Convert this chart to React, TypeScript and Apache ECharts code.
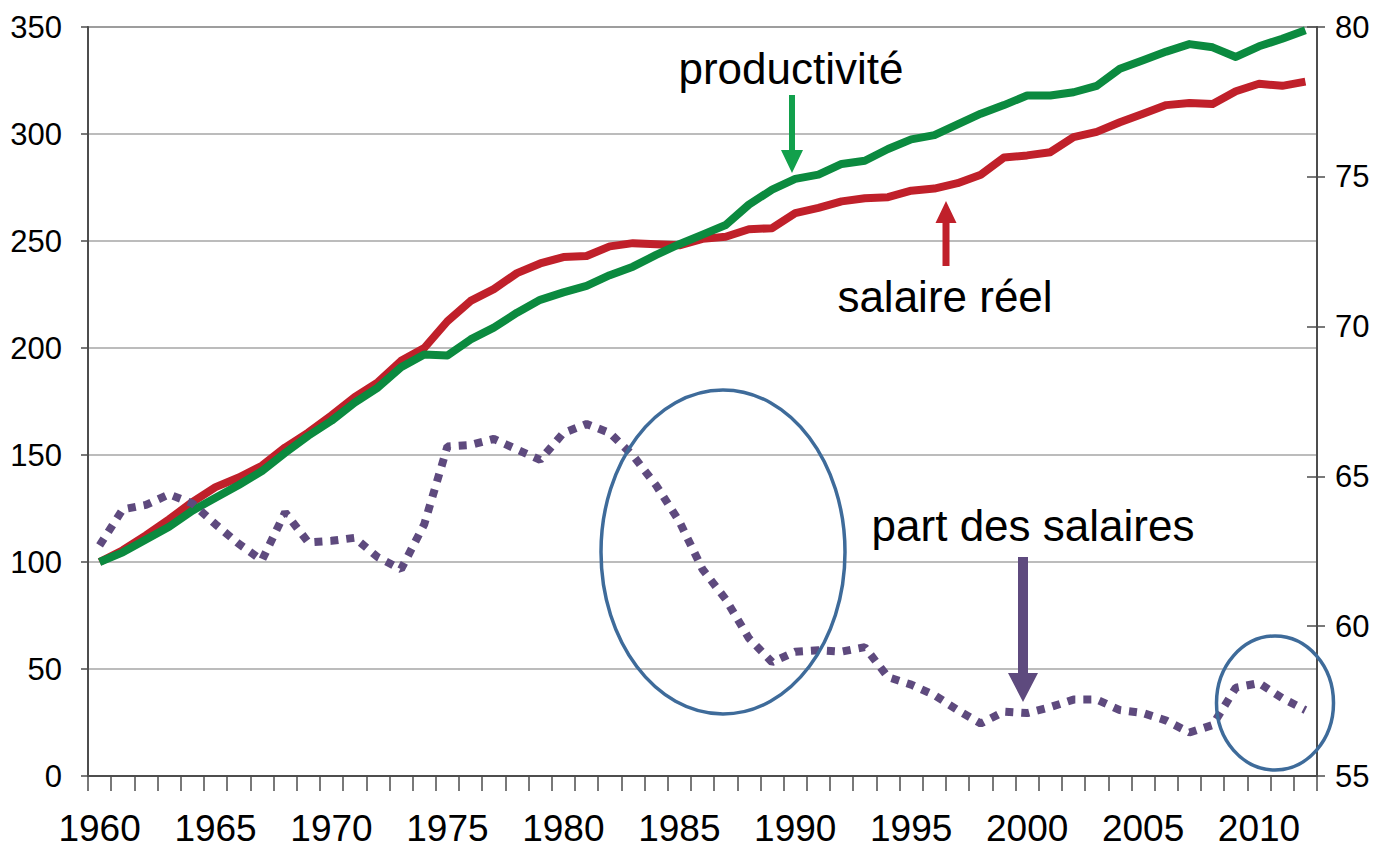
import React, { useEffect, useRef } from "react";
import * as echarts from "echarts";

const years: string[] = [];
for (let y = 1960; y <= 2012; y++) years.push(String(y));

// productivité (left axis, index 1960 = 100)
const productivite = [
  100, 104.5, 110.5, 116.5, 124, 130, 136, 142.5, 151, 159,
  166, 174.5, 181.5, 191, 197, 196.5, 204, 209.5, 216.5, 222.5,
  226, 229, 234, 238, 243.5, 248.5, 253, 257.5, 267, 274,
  279, 281, 286, 287.5, 293, 297.5, 299.5, 304.5, 309.5, 313.5,
  318, 318, 319.5, 322.5, 330.5, 334.5, 338.5, 342, 340.5, 336,
  341, 344.5, 348.5,
];

// salaire réel (left axis, index 1960 = 100)
const salaireReel = [
  100, 105.5, 112.5, 120, 128, 135, 139.5, 145, 153.5, 160.5,
  168.5, 177, 184, 194, 200, 212.5, 222, 227.5, 235, 239.5,
  242.5, 243, 247.5, 249, 248.5, 248, 251, 252, 255.5, 256,
  263, 265.5, 268.5, 270, 270.5, 273.5, 274.5, 277, 281, 289,
  290, 291.5, 298.5, 301, 305.5, 309.5, 313.5, 314.5, 314, 320,
  323.5, 322.5, 324.5,
];

// part des salaires (right axis, %)
const partSalaires = [
  62.7, 63.9, 64.05, 64.4, 64.1, 63.4, 62.75, 62.2, 63.8, 62.8,
  62.85, 62.95, 62.3, 61.9, 63.4, 66.0, 66.05, 66.25, 65.9, 65.55,
  66.45, 66.75, 66.45, 65.7, 64.7, 63.5, 61.9, 60.9, 59.6, 58.8,
  59.15, 59.2, 59.15, 59.3, 58.3, 58.05, 57.7, 57.2, 56.75, 57.15,
  57.1, 57.3, 57.55, 57.55, 57.2, 57.1, 56.85, 56.45, 56.7, 57.95,
  58.1, 57.6, 57.2,
];

const FONT = '"Liberation Sans", Arial, sans-serif';

function arrowDown(c: number, top: number, base: number, tip: number, hw: number, sw: number) {
  return [
    [c - sw, top], [c + sw, top], [c + sw, base], [c + hw, base],
    [c, tip], [c - hw, base], [c - sw, base],
  ];
}
function arrowUp(c: number, bottom: number, base: number, tip: number, hw: number, sw: number) {
  return [
    [c - sw, bottom], [c + sw, bottom], [c + sw, base], [c + hw, base],
    [c, tip], [c - hw, base], [c - sw, base],
  ];
}

export default function App() {
  const ref = useRef<HTMLDivElement>(null);
  useEffect(() => {
    if (!ref.current) return;
    const chart = echarts.init(ref.current, null, { renderer: "svg" });
    const axisColor = "#4d4d4d";
    chart.setOption({
      animation: false,
      backgroundColor: "#ffffff",
      grid: {
        left: 88, right: 77, top: 27, bottom: 74,
        show: true, borderColor: "#595959", borderWidth: 1.5,
        backgroundColor: "transparent",
      },
      xAxis: {
        type: "category",
        data: years,
        boundaryGap: true,
        axisLine: { show: true, lineStyle: { color: axisColor, width: 2 } },
        axisTick: { show: true, interval: 0, length: 15, lineStyle: { color: axisColor, width: 1.5 } },
        axisLabel: { interval: 4, fontFamily: FONT, fontSize: 37, color: "#000", margin: 34 },
        splitLine: { show: false },
      },
      yAxis: [
        {
          type: "value", min: 0, max: 350, interval: 50, position: "left",
          axisLine: { show: true, lineStyle: { color: axisColor, width: 2 } },
          axisTick: { show: true, length: 7, lineStyle: { color: axisColor, width: 1.5 } },
          axisLabel: { fontFamily: FONT, fontSize: 31, color: "#000", margin: 26 },
          splitLine: { show: true, lineStyle: { color: "#a6a6a6", width: 1.5 } },
        },
        {
          type: "value", min: 55, max: 80, interval: 5, position: "right",
          axisLine: { show: true, lineStyle: { color: axisColor, width: 2 } },
          axisTick: { show: true, length: 8, lineStyle: { color: axisColor, width: 1.5 } },
          axisLabel: { fontFamily: FONT, fontSize: 31, color: "#000", margin: 18 },
          splitLine: { show: false },
        },
        {
          type: "value", min: 55, max: 80, interval: 5, position: "right",
          axisLine: { show: false },
          axisTick: { show: true, inside: true, length: 10, lineStyle: { color: axisColor, width: 1.5 } },
          axisLabel: { show: false },
          splitLine: { show: false },
        },
      ],
      series: [
        {
          name: "salaire réel", type: "line", data: salaireReel, yAxisIndex: 0,
          showSymbol: false, symbol: "none",
          lineStyle: { color: "#c0202a", width: 8, join: "round" },
          z: 2,
        },
        {
          name: "productivité", type: "line", data: productivite, yAxisIndex: 0,
          showSymbol: false, symbol: "none",
          lineStyle: { color: "#0b8a3f", width: 8, join: "round" },
          z: 3,
        },
        {
          name: "part des salaires", type: "line", data: partSalaires, yAxisIndex: 1,
          showSymbol: false, symbol: "none",
          lineStyle: { color: "#5e4a7e", width: 8, type: [8, 8], cap: "butt" },
          z: 4,
        },
      ],
      graphic: [
        { type: "text", z: 100, x: 791, y: 68, style: { text: "productivité", font: `44px ${FONT}`, fill: "#000", align: "center", verticalAlign: "middle" } },
        { type: "text", z: 100, x: 945, y: 296, style: { text: "salaire réel", font: `44px ${FONT}`, fill: "#000", align: "center", verticalAlign: "middle" } },
        { type: "text", z: 100, x: 1033, y: 525, style: { text: "part des salaires", font: `44px ${FONT}`, fill: "#000", align: "center", verticalAlign: "middle" } },
        { type: "polygon", z: 100, shape: { points: arrowDown(792, 95, 150, 173, 11, 3) }, style: { fill: "#12a04c" } },
        { type: "polygon", z: 100, shape: { points: arrowUp(946, 266, 223, 201, 10.5, 3.5) }, style: { fill: "#c0202a" } },
        { type: "polygon", z: 100, shape: { points: arrowDown(1023, 557, 673, 702, 15, 5) }, style: { fill: "#5e4a7e" } },
        { type: "ellipse", z: 100, shape: { cx: 723, cy: 552, rx: 122, ry: 162 }, style: { fill: "none", stroke: "#3e6b9a", lineWidth: 3.5 } },
        { type: "ellipse", z: 100, shape: { cx: 1275, cy: 703, rx: 58.5, ry: 67 }, style: { fill: "none", stroke: "#3e6b9a", lineWidth: 3.5 } },
      ],
    });
    return () => chart.dispose();
  }, []);
  return (
    <div
      ref={ref}
      style={{ position: "fixed", left: 0, top: 0, width: 1394, height: 850, background: "#fff" }}
    />
  );
}
